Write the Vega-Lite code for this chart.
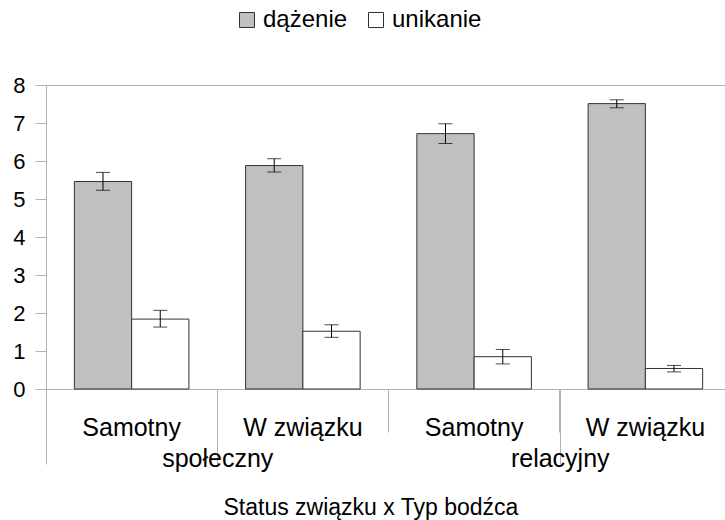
{
  "$schema": "https://vega.github.io/schema/vega-lite/v6.json",
  "width": 679,
  "height": 304,
  "autosize": {"type": "none"},
  "padding": {"left": 46, "top": 85, "right": 0, "bottom": 131},
  "background": "white",
  "config": {
    "font": "Liberation Sans",
    "view": {"stroke": null},
    "axis": {"domainColor": "#b3b3b3", "tickColor": "#b3b3b3", "labelColor": "black", "titleColor": "black", "titleFontWeight": "normal", "labelFont": "Liberation Sans", "titleFont": "Liberation Sans"},
    "axisY": {"title": null, "values": [0, 1, 2, 3, 4, 5, 6, 7, 8], "labelOverlap": false, "tickSize": 11, "labelPadding": 10, "labelFontSize": 22, "grid": true, "gridColor": "#b3b3b3"},
    "legend": {"labelFont": "Liberation Sans", "labelColor": "black"}
  },
  "datasets": {
    "bars": [
      {"grupa": "społeczny|Samotny", "typ": "społeczny", "status": "Samotny", "seria": "dążenie", "wartosc": 5.46, "lo": 5.23, "hi": 5.70},
      {"grupa": "społeczny|Samotny", "typ": "społeczny", "status": "Samotny", "seria": "unikanie", "wartosc": 1.84, "lo": 1.63, "hi": 2.07},
      {"grupa": "społeczny|W związku", "typ": "społeczny", "status": "W związku", "seria": "dążenie", "wartosc": 5.88, "lo": 5.71, "hi": 6.06},
      {"grupa": "społeczny|W związku", "typ": "społeczny", "status": "W związku", "seria": "unikanie", "wartosc": 1.52, "lo": 1.36, "hi": 1.69},
      {"grupa": "relacyjny|Samotny", "typ": "relacyjny", "status": "Samotny", "seria": "dążenie", "wartosc": 6.72, "lo": 6.46, "hi": 6.98},
      {"grupa": "relacyjny|Samotny", "typ": "relacyjny", "status": "Samotny", "seria": "unikanie", "wartosc": 0.85, "lo": 0.66, "hi": 1.04},
      {"grupa": "relacyjny|W związku", "typ": "relacyjny", "status": "W związku", "seria": "dążenie", "wartosc": 7.51, "lo": 7.40, "hi": 7.61},
      {"grupa": "relacyjny|W związku", "typ": "relacyjny", "status": "W związku", "seria": "unikanie", "wartosc": 0.54, "lo": 0.45, "hi": 0.62}
    ]
  },
  "data": {"name": "bars"},
  "layer": [
    {
      "encoding": {
        "x": {
          "field": "grupa", "type": "nominal",
          "sort": ["społeczny|Samotny", "społeczny|W związku", "relacyjny|Samotny", "relacyjny|W związku"],
          "scale": {"range": [0, 685], "paddingInner": 0, "paddingOuter": 0},
          "axis": {"orient": "bottom", "title": null, "labelExpr": "split(datum.label, '|')[1]", "bandPosition": 0, "tickExtra": true, "tickSize": 43, "labelAngle": 0, "labelFontSize": 25, "labelBaseline": "alphabetic", "labelPadding": 3}
        },
        "xOffset": {"field": "seria", "type": "nominal", "sort": ["dążenie", "unikanie"], "scale": {"paddingInner": 0, "paddingOuter": 0.495}}
      },
      "layer": [
        {
          "mark": {"type": "bar", "stroke": "#333333", "strokeWidth": 1},
          "encoding": {
            "y": {
              "field": "wartosc", "type": "quantitative",
              "scale": {"domain": [0, 8], "nice": false},
              "axis": {"title": null, "gridColor": {"condition": {"test": "datum.value == 8", "value": "#b3b3b3"}, "value": "transparent"}}
            },
            "fill": {
              "field": "seria", "type": "nominal",
              "scale": {"domain": ["dążenie", "unikanie"], "range": ["#c0c0c0", "#ffffff"]},
              "legend": {"title": null, "orient": "none", "direction": "horizontal", "legendX": 189, "legendY": -77, "padding": 0, "symbolType": "square", "symbolSize": 225, "symbolStrokeColor": "#333333", "symbolStrokeWidth": 1, "labelFontSize": 24, "labelOffset": 4, "columnPadding": 16}
            }
          }
        },
        {
          "mark": {"type": "rule", "color": "black", "strokeWidth": 1},
          "encoding": {"y": {"field": "lo", "type": "quantitative", "axis": {"title": null, "gridColor": {"condition": {"test": "datum.value == 8", "value": "#b3b3b3"}, "value": "transparent"}}}, "y2": {"field": "hi"}}
        },
        {
          "mark": {"type": "tick", "color": "black", "size": 14, "thickness": 1},
          "encoding": {"y": {"field": "lo", "type": "quantitative", "axis": {"title": null, "gridColor": {"condition": {"test": "datum.value == 8", "value": "#b3b3b3"}, "value": "transparent"}}}}
        },
        {
          "mark": {"type": "tick", "color": "black", "size": 14, "thickness": 1},
          "encoding": {"y": {"field": "hi", "type": "quantitative", "axis": {"title": null, "gridColor": {"condition": {"test": "datum.value == 8", "value": "#b3b3b3"}, "value": "transparent"}}}}
        }
      ]
    },
    {
      "mark": {"type": "point", "opacity": 0},
      "encoding": {
        "x": {
          "field": "typ", "type": "nominal",
          "sort": ["społeczny", "relacyjny"],
          "scale": {"range": [0, 685], "paddingInner": 0, "paddingOuter": 0},
          "axis": {"orient": "bottom", "title": "Status związku x Typ bodźca", "domain": false, "bandPosition": 0, "tickExtra": true, "tickSize": 75, "labelAngle": 0, "labelFontSize": 25, "labelBaseline": "alphabetic", "labelPadding": 2, "titleFontSize": 23, "titleX": 177, "titleY": 125, "titleAlign": "left", "titleBaseline": "alphabetic"}
        },
        "y": {"datum": 0, "type": "quantitative", "axis": {"title": null, "gridColor": {"condition": {"test": "datum.value == 8", "value": "#b3b3b3"}, "value": "transparent"}}}
      }
    }
  ],
  "resolve": {"scale": {"x": "independent"}}
}
